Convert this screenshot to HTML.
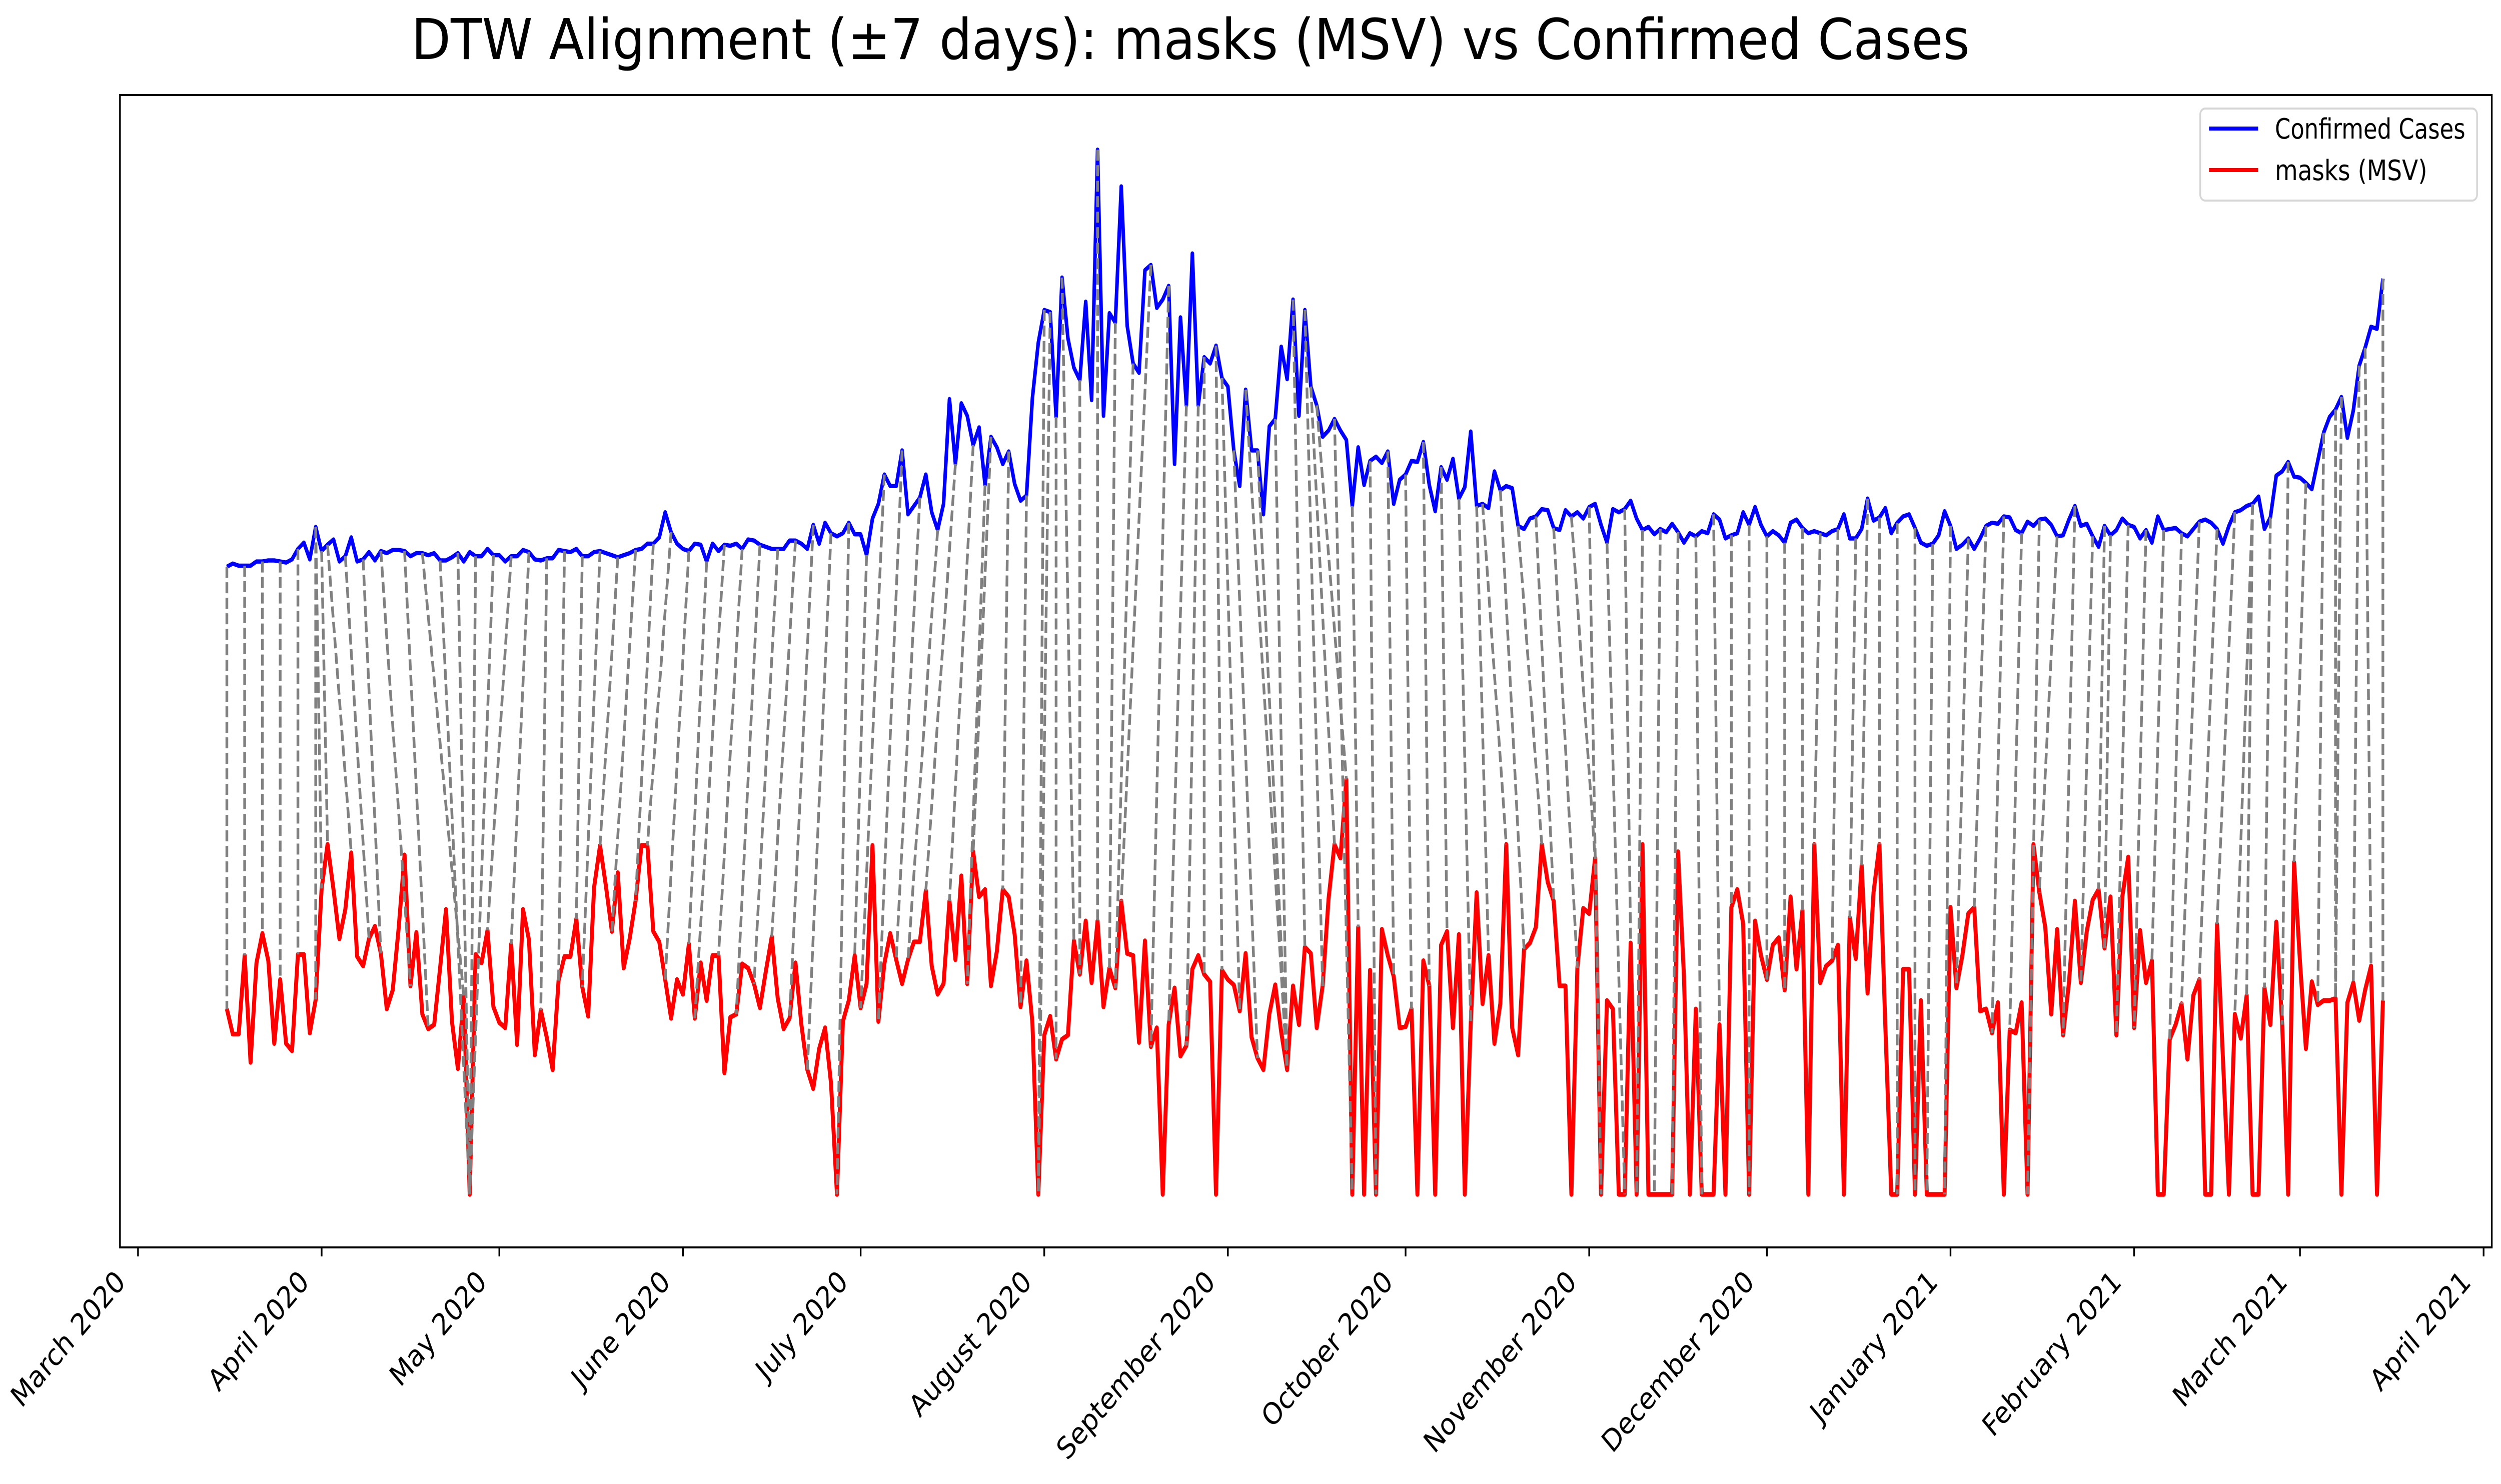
<!DOCTYPE html>
<html><head><meta charset="utf-8"><title>DTW Alignment</title>
<style>html,body{margin:0;padding:0;background:#fff;overflow:hidden}svg{display:block;width:100vw;height:100vh}text{font-family:"DejaVu Sans","Liberation Sans",sans-serif}</style>
</head><body>
<svg id="chart" xmlns="http://www.w3.org/2000/svg" viewBox="0 0 5962 2967" preserveAspectRatio="none">
<rect x="0" y="0" width="5962" height="2967" fill="#fff"/>
<text x="2838" y="118" font-size="112" text-anchor="middle" textLength="3715" lengthAdjust="spacingAndGlyphs">DTW Alignment (±7 days): masks (MSV) vs Confirmed Cases</text>
<g id="plot"></g>
<rect x="286" y="190" width="5654" height="2304" fill="none" stroke="#000" stroke-width="4"/>
<g id="xaxis"></g>
<g>
<rect x="5245" y="217" width="660" height="184" rx="12" fill="#fff" fill-opacity="0.8" stroke="#d6d6d6" stroke-width="4"/>
<line x1="5266" y1="257" x2="5383" y2="257" stroke="#0000ff" stroke-width="8"/>
<text x="5423" y="277" font-size="56" textLength="454" lengthAdjust="spacingAndGlyphs">Confirmed Cases</text>
<line x1="5266" y1="340" x2="5383" y2="340" stroke="#ff0000" stroke-width="8"/>
<text x="5423" y="360" font-size="56">masks (MSV)</text>
</g>
</svg>
<script>
const startDate = "2020-03-16";
const confirmedValues = [59.9,60.2,60.0,60.0,60.0,60.4,60.4,60.5,60.5,60.4,60.3,60.6,61.6,62.2,60.6,63.7,61.4,62.0,62.5,60.4,60.9,62.7,60.4,60.6,61.3,60.5,61.4,61.2,61.5,61.5,61.4,60.9,61.2,61.2,61.0,61.2,60.5,60.5,60.8,61.2,60.4,61.3,60.9,60.9,61.6,61.0,61.0,60.4,60.9,60.9,61.5,61.3,60.6,60.5,60.7,60.7,61.5,61.4,61.3,61.6,60.9,60.9,61.3,
61.4,61.2,61.0,60.8,61.0,61.2,61.5,61.6,62.1,62.1,62.7,65.1,63.2,62.1,61.6,61.4,62.1,62.0,60.4,62.1,61.4,62.0,61.9,62.1,61.6,62.5,62.4,62.0,61.8,61.6,61.6,61.6,62.4,62.4,62.1,61.6,63.9,62.1,64.1,63.1,62.8,63.1,64.1,63.0,63.0,61.0,64.5,65.9,68.7,67.6,67.6,71.0,64.9,65.7,66.5,68.7,65.1,63.4,65.9,75.9,69.7,75.5,74.3,
71.5,73.2,67.7,72.3,71.3,69.7,70.9,67.8,66.2,66.7,76.0,81.3,84.4,84.2,74.2,87.5,81.7,78.9,77.7,85.2,75.8,99.7,74.3,84.1,83.2,96.2,82.9,79.3,78.4,88.2,88.7,84.6,85.4,86.7,69.7,83.7,75.3,89.8,75.3,79.9,79.3,81.0,77.9,77.1,71.0,67.6,76.8,71.0,71.0,64.9,73.3,74.0,80.9,77.8,85.4,74.3,84.4,77.1,75.3,72.3,72.9,74.0,72.9,72.0,
65.7,71.3,67.7,70.0,70.4,69.8,70.9,65.9,68.2,68.7,70.0,69.9,71.8,67.7,65.2,69.4,68.2,70.2,66.4,67.5,72.8,65.7,65.9,65.5,69.0,67.2,67.6,67.4,63.8,63.5,64.5,64.7,65.4,65.3,63.6,63.4,65.3,64.7,65.1,64.5,65.6,65.9,63.9,62.2,65.4,65.1,65.4,66.2,64.5,63.4,63.7,63.0,63.5,63.2,64.0,63.2,62.2,63.1,62.8,63.3,63.1,64.9,64.4,62.6,
62.9,63.1,65.1,63.9,65.6,63.9,62.8,63.3,62.9,62.2,64.1,64.4,63.6,63.1,63.3,63.1,62.9,63.3,63.5,64.9,62.6,62.6,63.5,66.4,64.3,64.6,65.5,63.1,64.1,64.7,64.9,63.6,62.2,61.9,62.1,62.9,65.2,63.8,61.6,62.0,62.6,61.6,62.6,63.8,64.1,64.0,64.7,64.6,63.4,63.1,64.2,63.8,64.4,64.5,63.9,62.8,62.9,64.4,65.7,63.8,64.0,62.8,61.8,63.8,
62.9,63.4,64.5,63.9,63.7,62.6,63.4,62.2,64.7,63.4,63.5,63.6,63.1,62.8,63.5,64.2,64.4,64.1,63.5,62.1,63.8,65.1,65.3,65.7,65.9,66.6,63.5,64.6,68.6,69.0,69.9,68.5,68.4,67.9,67.3,70.0,72.7,74.2,74.9,76.1,72.2,74.8,79.1,80.8,82.8,82.6,87.4];
const masksValues = [17.7,15.3,15.3,22.8,12.6,22.1,24.9,22.3,14.4,20.5,14.4,13.7,22.9,22.9,15.4,18.6,29.2,33.4,29.1,24.4,27.2,32.6,22.7,21.8,24.4,25.6,23.0,17.7,19.5,25.4,32.4,19.9,25.0,17.2,15.8,16.2,21.6,27.2,16.5,12.0,18.9,0,22.9,22.1,25.2,17.9,16.4,15.9,23.9,14.3,27.2,24.3,13.3,17.6,15.0,11.9,20.4,22.7,22.7,26.3,19.8,17.0,29.3,
33.3,29.4,25.1,30.7,21.6,24.4,28.0,33.3,33.3,25.1,24.1,20.5,16.8,20.5,19.1,23.9,16.8,22.1,18.5,22.8,22.8,11.6,16.9,17.2,22.0,21.6,20.1,17.8,21.3,24.6,18.7,15.8,16.8,22.1,16.2,11.9,10.1,13.9,15.9,10.6,0,16.5,18.5,22.8,17.8,20.1,33.3,16.5,22.0,24.9,22.4,20.1,22.4,24.1,24.1,29.0,21.8,19.1,20.1,28.0,22.4,30.4,20.1,
32.7,28.4,29.1,19.9,23.2,29.1,28.4,24.8,17.9,22.3,16.4,0,15.2,17.0,12.9,14.8,15.2,24.2,21.0,26.1,20.2,26.1,17.9,21.6,19.7,28.0,23.0,22.8,14.5,24.2,14.1,15.9,0,16.2,19.7,13.2,14.2,21.5,22.8,21.0,20.3,0,21.4,20.5,20.0,17.5,23.0,15.0,13.0,11.9,17.2,20.0,15.5,11.9,19.9,16.2,23.6,23.0,15.9,19.9,28.2,33.4,32.1,39.6,
0,25.5,0,21.4,0,25.3,22.8,20.8,15.9,16.0,17.7,0,22.3,19.9,0,23.8,25.1,15.9,24.8,0,16.2,28.8,18.2,22.8,14.4,18.2,33.4,15.9,13.3,23.4,24.0,25.5,33.4,29.8,28.0,19.9,19.9,0,21.6,27.3,26.8,32.1,0,18.5,17.7,0,0,24.0,0,33.4,0,0,0,0,0,32.7,20.8,0,17.7,0,0,0,16.2,0,
27.4,29.1,25.8,0,26.1,22.8,20.5,23.8,24.5,19.5,28.4,21.5,27.1,0,33.4,20.2,21.8,22.3,23.8,0,26.4,22.5,31.4,19.2,28.8,33.4,16.0,0,0,21.5,21.5,0,18.5,0,0,0,0,27.4,19.7,22.8,26.8,27.4,17.5,17.7,15.4,18.3,0,15.7,15.4,18.3,0,33.4,28.8,25.5,17.2,25.3,15.2,20.2,28.0,20.2,25.1,28.1,29.1,23.5,
28.4,15.2,28.4,32.2,15.9,25.2,20.2,22.3,0,0,14.8,16.2,18.2,12.9,19.0,20.5,0,0,25.8,12.9,0,17.2,14.9,19.0,0,0,19.7,16.2,26.0,16.2,0,31.7,22.2,13.9,20.3,18.1,18.5,18.5,18.7,0,18.3,20.2,16.6,19.5,21.8,0,18.5];
const pathConfirmedIdx = [0,3,6,9,12,15,15,16,17,20,23,26,30,33,36,39,42,45,48,51,54,57,60,63,66,69,72,75,78,81,84,87,90,93,96,99,102,105,108,111,114,117,120,123,126,128,129,132,135,138,139,140,141,144,147,150,153,156,159,162,164,165,167,168,170,172,174,177,180,182,183,184,187,190,193,196,199,202,205,208,211,212,215,218,221,224,227,230,233,236,239,242,245,248,251,254,257,260,263,266,269,272,275,277,279,282,285,288,291,294,297,300,303,306,309,312,315,317,318,321,324,327,330,333,336,339,342,342,345,348,351,354,356,357,360,361,364];
const pathMasksIdx =     [0,3,6,9,12,15,16,17,21,24,26,31,34,40,41,41,41,41,44,48,53,56,59,60,63,65,69,71,74,78,79,83,86,89,92,95,98,103,106,107,110,113,115,118,122,125,126,131,134,137,137,140,143,144,147,149,150,151,156,159,162,165,168,171,174,179,179,179,182,185,187,189,190,191,194,197,200,203,206,210,213,216,219,222,224,228,231,232,236,237,238,241,244,249,252,254,257,260,263,266,268,271,274,276,279,282,285,287,290,292,295,298,301,304,306,310,313,316,317,319,322,325,328,330,333,336,339,341,344,347,349,353,356,356,359,362,364];
const monthTicks = ["March 2020","April 2020","May 2020","June 2020","July 2020","August 2020","September 2020","October 2020","November 2020","December 2020","January 2021","February 2021","March 2021","April 2021"];
const monthTickDates = ["2020-03-01","2020-04-01","2020-05-01","2020-06-01","2020-07-01","2020-08-01","2020-09-01","2020-10-01","2020-11-01","2020-12-01","2021-01-01","2021-02-01","2021-03-01","2021-04-01"];

const NS = "http://www.w3.org/2000/svg";
const DAY = 86400000;
const origin = Date.UTC(2020, 2, 1);
function dayOf(s){ const p = s.split("-").map(Number); return (Date.UTC(p[0], p[1]-1, p[2]) - origin) / DAY; }
function xScale(d){ return 329 + d * 14.12; }
function yScale(v){ return 2388 - v * 20.95; }
const d0 = dayOf(startDate);
function xIdx(i){ return xScale(d0 + i); }

const plot = document.getElementById("plot");
function mk(tag, attrs){ const e = document.createElementNS(NS, tag); for (const k in attrs) e.setAttribute(k, attrs[k]); return e; }

function seriesPath(vals){ return vals.map((v,i)=>(i?"L":"M")+xIdx(i).toFixed(1)+" "+yScale(v).toFixed(1)).join(" "); }
const blue = mk("path", {d: seriesPath(confirmedValues), fill:"none", stroke:"#0000ff", "stroke-width":"8.5", "stroke-linejoin":"round"});


plot.appendChild(blue);
const red = mk("path", {d: seriesPath(masksValues), fill:"none", stroke:"#ff0000", "stroke-width":"9.5", "stroke-linejoin":"round"});


plot.appendChild(red);

const links = mk("g", {});


for (let n = 0; n < pathConfirmedIdx.length; n++){
  const i = pathConfirmedIdx[n], j = pathMasksIdx[n];
  const ln = mk("line", {x1: xIdx(i).toFixed(1), y1: yScale(confirmedValues[i]).toFixed(1), x2: xIdx(j).toFixed(1), y2: yScale(masksValues[j]).toFixed(1), stroke:"#808080", "stroke-width":"6.5", "stroke-dasharray":"22 9"});
  
  
  links.appendChild(ln);
}
plot.appendChild(links);

const xaxis = document.getElementById("xaxis");
for (let t = 0; t < monthTicks.length; t++){
  const x = xScale(dayOf(monthTickDates[t]));
  const tk = mk("line", {x1:x, y1:2494, x2:x, y2:2512, stroke:"#000", "stroke-width":"4"});
  
  
  xaxis.appendChild(tk);
  const lb = mk("text", {x:0, y:0, "font-size":"60", "text-anchor":"end", transform:"translate(" + (x-27).toFixed(1) + ",2566) rotate(-45)"});
  lb.textContent = monthTicks[t];
  
  
  xaxis.appendChild(lb);
}
</script>
</body></html>
